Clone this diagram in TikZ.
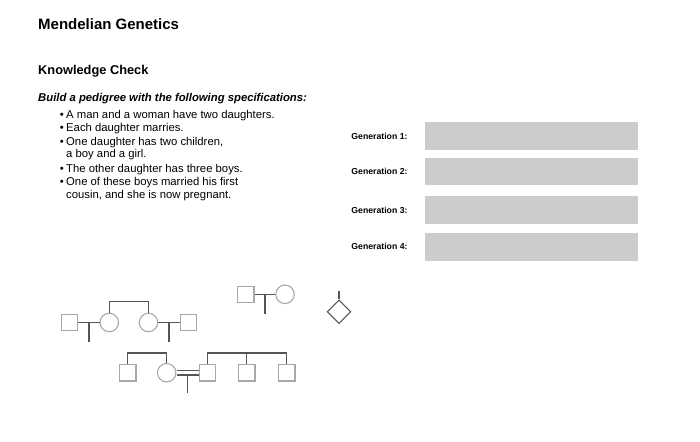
\documentclass[tikz,border=0pt]{standalone}
\usepackage{fontspec}
\setmainfont{Liberation Sans}
\usetikzlibrary{calc, positioning}
\definecolor{boxgray}{HTML}{CCCCCC}
\definecolor{shapegray}{HTML}{A8A8A8}
\definecolor{linegray}{HTML}{555555}
\tikzset{male/.style = {draw=shapegray, line width=1.1pt, minimum size=16.5pt, inner sep=0pt},
         female/.style = {male, circle, minimum size=18.5pt},
         link/.style = {draw=linegray, line width=1.4pt},
         txt/.style = {anchor=base west, inner sep=0pt}}

\begin{document}
\begin{tikzpicture}[x=1pt, y=-1pt]
\useasboundingbox (0,0) rectangle (700,441);
\node [txt, font=\fontsize{15}{18}\selectfont\bfseries] (title) at (38,30) {Mendelian Genetics};
\node [txt, font=\fontsize{12.8}{15}\selectfont\bfseries] (kc) at (38,75) {Knowledge Check};
\node [txt, font=\fontsize{11.3}{13}\selectfont\bfseries\itshape] (task) at (38,101.7) {Build a pedigree with the following specifications:};
\foreach \i/\y/\t in {1/118/{A man and a woman have two daughters.}, 2/131.3/{Each daughter marries.},
    3/145.7/{One daughter has two children,}, 4/157.3/{a boy and a girl.}, 5/172.3/{The other daughter has three boys.},
    6/185.7/{One of these boys married his first}, 7/198.3/{cousin, and she is now pregnant.}}
  \node [txt, font=\fontsize{11.3}{13}\selectfont] (item\i) at (66,\y) {\t};
\foreach \i in {1,2,3,5,6}
  \node [txt, anchor=base east, font=\fontsize{11.3}{13}\selectfont] (dot\i) at ([xshift=-2pt]item\i.base west) {•};

% generation rows
\foreach \i/\y in {1/136.2, 2/171.5, 3/210, 4/246.7} {
  \node [fill=boxgray, minimum width=212.7pt, minimum height=27.8pt, anchor=west, inner sep=0pt] (box\i) at (425,\y) {};
  \node [left=17.3pt of box\i, inner sep=0pt, font=\fontsize{8.7}{10}\selectfont\bfseries] (gen\i) {Generation \i:};
}

% pedigree pieces
\node [male] (gp) at (245.7,294.3) {};
\node [female] (gm) at (285,294.3) {};
\node [male] (h1) at (69.3,322.5) {};
\node [female] (d1) at (109.3,322.5) {};
\node [female] (d2) at (148.5,322.5) {};
\node [male] (h2) at (188.3,322.5) {};
\node [male] (c1) at (127.7,372.7) {};
\node [female] (c2) at (166.7,372.7) {};
\node [male] (s1) at (207.3,372.7) {};
\node [male] (s2) at (246.7,372.7) {};
\node [male] (s3) at (286.7,372.7) {};
\node [male, draw=linegray, rotate=45] (baby) at (339,311.7) {};

\coordinate (m0) at ($(gp.east)!.5!(gm.west)$);
\coordinate (m1) at ($(h1.east)!.5!(d1.west)$);
\coordinate (m2) at ($(d2.east)!.5!(h2.west)$);
\coordinate (m3) at ($(c2.east)!.5!(s1.west)$);

\draw [link] (gp) -- (gm);
\draw [link] (m0) -- ++(0,19.5);
\draw [link] (h1) -- (d1);
\draw [link] (m1) -- ++(0,19.8);
\draw [link] (d2) -- (h2);
\draw [link] (m2) -- ++(0,19.8);
\draw [link] (d1.north) -- ++(0,-11) -| (d2.north);
\draw [link] (c1.north) -- ++(0,-11) -| (c2.north);
\draw [link] (s1.north) -- ++(0,-11) -| (s3.north);
\draw [link] (s2.north) -- ++(0,-11);
\draw [link, double, double distance=3pt] (c2) -- (s1);
\draw [link] ([yshift=-2.2pt]m3) -- ++(0,18.4);
\draw [link] (baby.north east) -- ++(0,-8.3);
\end{tikzpicture}
\end{document}
